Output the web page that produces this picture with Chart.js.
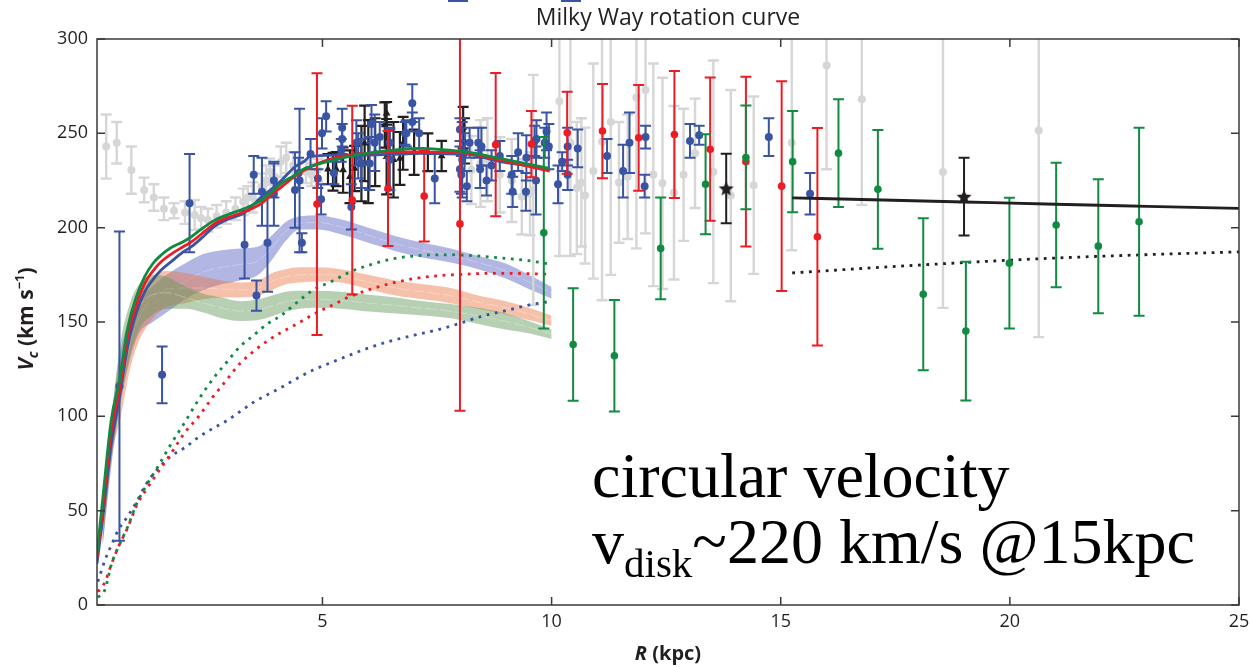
<!DOCTYPE html>
<html>
<head>
<meta charset="utf-8">
<title>Milky Way rotation curve</title>
<script src="https://cdn.jsdelivr.net/npm/chart.js@4.4.1/dist/chart.umd.min.js"></script>
<style>
  html, body { margin: 0; padding: 0; background: #ffffff; }
  #wrap { width: 1251px; height: 667px; position: relative; }
</style>
</head>
<body>
<div id="wrap"><canvas id="chart" width="1251" height="667"></canvas></div>
<script>
// ---- Tick values -------------------------------------------------------
const xTickValues = [5, 10, 15, 20, 25];
const yTickValues = [0, 50, 100, 150, 200, 250, 300];

// ---- Measurements: [R (kpc), Vc (km/s), error (km/s)] -----------------
const grayPoints = [
  [0.28,243,17],[0.51,245,11],[0.83,230.5,12.5],[1.11,220,6.5],[1.32,216,7],[1.54,210,6],
  [1.76,209,4],[2.0,208,6],[2.21,206.7,8],[2.35,205,6],[2.5,204,6],[2.69,206,6],[2.9,208,6],
  [3.1,210,6],[3.27,213.7,7],[3.37,216,6],[3.48,216,8],[3.67,221.7,7],[3.77,225,8],[3.85,229.6,7],
  [3.96,227,6],[4.09,235,8],[4.21,237,8],[4.36,233,7],[4.64,229.6,6],[4.76,228,6],[4.9,230.5,6],
  [8.25,230.5,18],[8.45,234,23],[8.6,236,22],[8.87,228,20],[9.13,225,22],[9.35,216.4,20],
  [9.53,218,22],[9.6,220,61],[10.17,267,82],[10.41,245,60],[10.55,221,35],[10.65,224,34],
  [10.73,217,36],[10.91,230,57],[11.1,245.5,84],[11.29,256,81],[11.47,224,32],[11.66,227,33],
  [11.85,269,80],[12.05,273,76],[12.22,228,59],[12.42,223.5,56],[12.67,218.5,46],[12.88,228,35],
  [13.13,239.4,29],[13.53,229.6,59],[13.91,217,56],[14.41,222.5,47],[15.24,245,57],[16.0,286,55],
  [16.77,268,56],[18.54,229.5,72],[20.63,251.5,109.5]
];
const bluePoints = [
  [0.57,116,82],[1.5,122,15],[2.1,213,26],[3.3,191,18],[3.5,228,10],[3.56,164,8],[3.68,219,18],
  [3.8,192,26],[3.94,218,17],[3.94,225,9],[4.4,220,20],[4.48,229,8],[4.5,225,38],[4.55,192,5],
  [4.74,239,8],[4.9,226,5],[4.97,215,8],[4.99,250,8],[5.08,259,8],[5.25,229,6],[5.41,241,6],
  [5.43,253,10],[5.43,247,8],[5.63,211,12],[5.74,245,12],[5.78,238,12],[5.85,234,13],[6.03,234,14],
  [6.07,255,10],[6.14,245,15],[6.25,248,8],[6.47,245,8],[6.47,236,16],[6.8,250,6],[6.83,250,7],
  [6.96,266,10],[6.96,256,5],[7.11,250,8],[7.45,226,13],[8.0,252,6],[8.0,231,12],[8.03,228,10],
  [8.05,236,20],[8.1,240,10],[8.15,222,8],[8.21,245,8],[8.4,245,8],[8.44,231,10],[8.47,243,10],
  [8.58,225,8],[8.69,233,8],[8.87,238,8],[9.13,228,10],[9.15,219,8],[9.27,240,10],[9.44,219,10],
  [9.45,237,12],[9.63,246,8],[9.66,225,18],[9.67,247,10],[9.85,245,8],[9.89,251,10],[9.94,243,12],
  [10.14,223,10],[10.23,235,5],[10.35,243,10],[10.35,228,8],[10.57,242,10],[11.21,238,9],
  [11.56,230,14],[11.7,245,16],[12.05,248,6],[12.03,222,6],[13.02,246,9],[13.22,249,5],
  [14.74,248,10],[15.64,218,11]
];
const blackPoints = [
  [5.12,231,8],[5.23,229.6,10],[5.3,231,9],[5.45,230.5,12],[5.6,227,14],[5.7,231.4,12],
  [5.85,234,20],[5.92,244.7,20],[6.0,235,22],[6.15,240,18],[6.36,254.4,12],[6.4,237.6,20],
  [6.4,260.6,6],[6.55,236,20],[6.69,236.7,14],[6.76,244.7,14],[7.0,240,12],[7.3,240,10],
  [7.6,238,8],[8.07,253,11],[8.1,246,12]
];
const redPoints = [
  [4.88,212.5,69.4],[5.65,214.6,50],[6.43,220.8,30.5],[7.22,216.7,24],[8.0,202,99],[8.78,244,38],
  [9.56,244.3,17.6],[10.34,250.3,21.7],[11.11,251.2,25],[11.9,247.6,28],[12.68,249.4,33.7],
  [13.46,241.6,38],[14.24,235,45],[15.02,222,55.6],[15.8,195.2,57.6]
];
const greenPoints = [
  [9.83,197.3,50.8],[10.47,138.1,29.8],[11.37,132.1,29.6],[12.38,189,27],[13.36,223,26.5],
  [14.24,237.2,27.5],[15.26,235,26.8],[16.26,239.5,28.5],[17.12,220.3,31.5],[18.11,164.7,40.3],
  [19.04,145.2,36.8],[19.99,181.2,34.6],[21.01,201.4,33],[21.93,190.2,35.5],[22.82,203.1,49.8]
];
const starPoints = [[13.81,220.8,18.4],[19.0,216.4,20.6]];

// ---- Model curves (R grid + Vc per model) ------------------------------
const curveR = [0.08,0.2,0.39,0.57,0.755,0.94,1.12,1.3,1.48,1.7,1.96,2.14,2.43,2.65,2.94,3.3,3.67,3.89,4.1,4.4,4.61,4.72,5.23,5.96,6.69,7.13,7.56,8.14,8.87,9.6,9.96];
const curveGreen = [27,55,98,119,147.5,163.4,174,181,185.5,189.5,192.5,195.2,200.5,204,207,210.2,214.6,219,223.5,227.9,231.4,232.3,235.8,239.4,241.5,242,241.5,240.2,236.7,233.2,231.4];
const curveRed = [25,50,92,114,143,159,170.5,177,181.9,186,189.9,192.5,198,202.3,205.5,208.4,212.9,217.5,221.5,227.3,230.5,232,236.7,239.4,240.2,240.2,240,239.5,235.8,232,230];
const curveBlue = [22,45,85,110,138,155,166,172.5,177.5,182,187.2,189.9,196,200.8,204.5,207.9,216.4,220.5,225,232.3,235.3,237.6,238.5,238.5,239,239.4,239.2,239,235,232.5,230.9];

// dotted components
const dotR = [0.1,0.25,0.4,0.55,0.75,0.95,1.15,1.4,1.7,2.0,2.3,2.6,2.9,3.2,3.5,3.8,4.1,4.4,4.8,5.2,5.6,6.0,6.5,7.0,7.5,8.0,8.5,9.0,9.5,10.0];
const dotGreen = [4,8,22,31,41.5,54,63,73,85.5,97,109,119.5,128.4,137,143,149,153.5,159.5,167,171.5,176.5,180,183.3,185,185.6,185.5,184.8,183.7,182.5,180.5];
const dotRed = [7,12,22,31,41,53,61,70,80.5,91.5,100,110,119,128,134.5,140,144.5,148.4,154,158.8,163.5,167,170.5,173,174.5,175.2,175.7,175.8,175.6,175.3];
const dotBlue = [12.4,23.5,32,40,47,55,64,72,79,83.5,89,93.5,97.5,102.5,107.5,111.5,115.3,119.5,124.6,128.6,132.5,136.2,140,143,145.8,149.3,153.2,156,159,161];

// outer-disk fit
const outerR = [15.25,17,19,21,23,25];
const outerFit = [215.8,214.8,213.6,212.4,211.3,210.2];
const outerDot = [176,178.7,181.5,183.9,185.7,187.2];

// uncertainty bands
const bandR = [0.2,0.4,0.6,0.8,1.0,1.3,1.6,2.0,2.4,2.8,3.2,3.6,3.9,4.2,4.5,4.9,5.4,6.0,6.6,7.2,7.8,8.4,9.0,9.5,10.0];
const blueBandHi = [45,100,135,152,162,169,175,181,186,188,189,190,196,203,206,206.5,204.5,200,195.5,192,189,185,181,175,168.5];
const blueBandLo = [30,75,108,130,144,150,155,162,167,170,172,175,183,193,199,199,196.5,192,187.5,184,181.5,178,173,167.5,162.5];
const orangeBandHi = [45,100,128,150,165,174,177,176,174,172,171,172,176,178,179,179,178,175,172,170,168,164,161,157.5,153.5];
const orangeBandLo = [32,78,100,125,140,152,158,160,162,163,163,164,167,170,171,171.5,171,167.5,164,162,160,157,154,151,148];
const greenBandHi = [45,100,140,160,170,175,174,169,165,163,161,162,164,166,166.5,166.5,166,164.5,163,161,159.5,157.5,154.5,150.5,146];
const greenBandLo = [32,78,108,132,146,154,157,157,155,152,150.5,151,153,155.5,157,157.5,157,155.5,154.5,153.5,152,149,146,144,141];

// ---- Colours -------------------------------------------------------------
const C = {
  gray: '#d6d6d6', blue: '#3a54a4', red: '#ec1c24', green: '#118a42', black: '#231f20',
  blueBand: 'rgba(100,110,200,0.5)', orangeBand: 'rgba(236,118,66,0.45)', greenBand: 'rgba(96,150,86,0.45)'
};

// ---- Helpers -------------------------------------------------------------
const toXY = (xs, ys) => xs.map((x, i) => ({ x, y: ys[i] }));
const ptsXY = list => list.map(p => ({ x: p[0], y: p[1] }));
const ptsErr = list => list.map(p => p[2]);

function starImage(size, color) {
  const c = document.createElement('canvas');
  c.width = c.height = size;
  const g = c.getContext('2d');
  g.fillStyle = color;
  g.beginPath();
  const R = size / 2, r = R * 0.45, cx = R, cy = R * 1.08;
  for (let i = 0; i < 10; i++) {
    const a = -Math.PI / 2 + i * Math.PI / 5;
    const rad = i % 2 ? r : R;
    g.lineTo(cx + rad * Math.cos(a), cy + rad * Math.sin(a));
  }
  g.closePath();
  g.fill();
  return c;
}

// ---- Datasets (listed bottom layer first) -------------------------------
const layers = [];
function band(lo, hi, color) {
  layers.push({ data: toXY(bandR, lo), borderWidth: 0, pointRadius: 0, fill: false, cubicInterpolationMode: 'monotone' });
  layers.push({ data: toXY(bandR, hi), borderWidth: 0, pointRadius: 0, fill: '-1', backgroundColor: color, cubicInterpolationMode: 'monotone' });
  const mid = lo.map((v, i) => (v + hi[i]) / 2);
  layers.push({ data: toXY(bandR, mid), borderColor: 'rgba(255,255,255,0.4)', borderWidth: 0.7, borderDash: [12, 3], pointRadius: 0, fill: false, cubicInterpolationMode: 'monotone' });
}
band(blueBandLo, blueBandHi, C.blueBand);
band(orangeBandLo, orangeBandHi, C.orangeBand);
band(greenBandLo, greenBandHi, C.greenBand);

function points(list, color, radius, style, capHalf, errWidth) {
  layers.push({
    data: ptsXY(list), errors: ptsErr(list), showLine: false,
    pointStyle: style || 'circle', pointRadius: radius, pointBackgroundColor: color,
    pointBorderColor: color, pointBorderWidth: 0, borderColor: color,
    capHalf: capHalf, errorWidth: errWidth
  });
}
points(grayPoints, C.gray, 4, 'circle', 5.5, 2.4);

function dotted(xs, ys, color) {
  layers.push({ data: toXY(xs, ys), borderColor: color, borderWidth: 2.8, borderDash: [2.8, 5.6], borderCapStyle: 'butt', pointRadius: 0, fill: false, cubicInterpolationMode: 'monotone' });
}
dotted(dotR, dotBlue, C.blue);
dotted(dotR, dotRed, C.red);
dotted(dotR, dotGreen, C.green);
dotted(outerR, outerDot, C.black);

points(blackPoints, C.black, 4.5, 'triangle', 5.5, 2.2);
points(bluePoints, C.blue, 4, 'circle', 5.5, 2);
points(redPoints, C.red, 3.8, 'circle', 5.5, 2);
points(greenPoints, C.green, 3.8, 'circle', 5.5, 2);
points(starPoints, C.black, 7, starImage(16, C.black), 5.5, 2);

function solid(xs, ys, color, w) {
  layers.push({ data: toXY(xs, ys), borderColor: color, borderWidth: w, pointRadius: 0, fill: false, cubicInterpolationMode: 'monotone' });
}
solid(curveR, curveBlue, C.blue, 2.8);
solid(curveR, curveRed, C.red, 2.8);
solid(curveR, curveGreen, C.green, 2.8);
solid(outerR, outerFit, C.black, 2.8);

// Chart.js draws higher `order` first, so the first layer gets the highest order.
layers.forEach((ds, i) => { ds.order = layers.length - i; });

// ---- Plugins ---------------------------------------------------------------
const errorBars = {
  id: 'errorBars',
  beforeDatasetDraw(chart, args) {
    const ds = chart.data.datasets[args.index];
    if (!ds.errors) return;
    const { ctx, chartArea: a, scales: { x, y } } = chart;
    ctx.save();
    ctx.beginPath();
    ctx.rect(a.left, a.top, a.right - a.left, a.bottom - a.top);
    ctx.clip();
    ctx.strokeStyle = ds.borderColor;
    ctx.lineWidth = ds.errorWidth;
    ctx.lineCap = 'butt';
    ds.data.forEach((p, i) => {
      const e = ds.errors[i];
      const px = x.getPixelForValue(p.x);
      const yTop = y.getPixelForValue(p.y + e);
      const yBot = y.getPixelForValue(p.y - e);
      const c = ds.capHalf;
      ctx.beginPath();
      ctx.moveTo(px, yTop); ctx.lineTo(px, yBot);
      ctx.moveTo(px - c, yTop); ctx.lineTo(px + c, yTop);
      ctx.moveTo(px - c, yBot); ctx.lineTo(px + c, yBot);
      ctx.stroke();
    });
    ctx.restore();
  }
};

const frame = {
  id: 'frame',
  afterDatasetsDraw(chart) {
    const { ctx, chartArea: a, scales: { x, y } } = chart;
    const tick = 8;
    ctx.save();
    ctx.strokeStyle = '#3a3a3a';
    ctx.lineWidth = 1.5;
    ctx.strokeRect(a.left, a.top, a.right - a.left, a.bottom - a.top);
    ctx.beginPath();
    xTickValues.forEach(v => {
      const px = x.getPixelForValue(v);
      ctx.moveTo(px, a.bottom); ctx.lineTo(px, a.bottom - tick);
      ctx.moveTo(px, a.top); ctx.lineTo(px, a.top + tick);
    });
    yTickValues.forEach(v => {
      const py = y.getPixelForValue(v);
      ctx.moveTo(a.left, py); ctx.lineTo(a.left + tick, py);
      ctx.moveTo(a.right, py); ctx.lineTo(a.right - tick, py);
    });
    ctx.stroke();
    ctx.restore();
  }
};

function richText(ctx, parts, cx, baseY, align) {
  let w = 0;
  parts.forEach(p => { ctx.font = p.font; p.w = ctx.measureText(p.t).width; w += p.w; });
  let x = align === 'left' ? cx : cx - w / 2;
  parts.forEach(p => { ctx.font = p.font; ctx.fillText(p.t, x, baseY + (p.dy || 0)); x += p.w; });
}

const labels = {
  id: 'labels',
  afterDraw(chart) {
    const { ctx, chartArea: a } = chart;
    ctx.save();
    ctx.fillStyle = C.black;
    ctx.textAlign = 'left';
    ctx.textBaseline = 'alphabetic';

    // cropped legend swatches along the top edge
    ctx.fillStyle = C.blue;
    ctx.fillRect(448, 0, 20, 2);
    ctx.fillRect(561, 0, 20, 2);
    ctx.fillStyle = C.black;

    // title
    richText(ctx, [{ t: 'Milky Way rotation curve', font: '23px "Open Sans"' }], (a.left + a.right) / 2, 25);

    // x-axis title
    richText(ctx, [
      { t: 'R', font: 'italic bold 20px "Open Sans"' },
      { t: ' (kpc)', font: 'bold 20px "Open Sans"' }
    ], (a.left + a.right) / 2, 660);

    // y-axis title
    ctx.save();
    ctx.translate(33, 319);
    ctx.rotate(-Math.PI / 2);
    richText(ctx, [
      { t: 'V', font: 'italic bold 21px "Open Sans"' },
      { t: 'c', font: 'italic bold 14px "Open Sans"', dy: 5 },
      { t: ' (km s', font: 'bold 21px "Open Sans"' },
      { t: '\u22121', font: 'bold 13px "Open Sans"', dy: -9 },
      { t: ')', font: 'bold 21px "Open Sans"' }
    ], 0, 0);
    ctx.restore();

    // annotation
    ctx.fillStyle = '#000000';
    richText(ctx, [{ t: 'circular velocity', font: '64px "Liberation Serif"' }], 592, 497, 'left');
    richText(ctx, [
      { t: 'v', font: '64px "Liberation Serif"' },
      { t: 'disk', font: '41px "Liberation Serif"', dy: 14 },
      { t: '~220 km/s @15kpc', font: '64px "Liberation Serif"' }
    ], 592, 563, 'left');
    ctx.restore();
  }
};

// ---- Chart -------------------------------------------------------------------
new Chart(document.getElementById('chart'), {
  type: 'line',
  data: { datasets: layers },
  options: {
    responsive: false,
    animation: false,
    events: [],
    layout: { padding: { top: 39, right: 12, left: 0, bottom: 0 } },
    plugins: { legend: { display: false }, tooltip: { enabled: false }, title: { display: false } },
    scales: {
      x: {
        type: 'linear', min: 0.08, max: 25,
        afterBuildTicks: s => { s.ticks = xTickValues.map(v => ({ value: v })); },
        afterFit: s => { s.height = 62; s.paddingLeft = 0; s.paddingRight = 0; },
        grid: { display: false, drawTicks: false },
        border: { display: false },
        ticks: { font: { family: 'Open Sans', size: 18 }, color: '#231f20', padding: 6, maxRotation: 0, autoSkip: false }
      },
      y: {
        type: 'linear', min: 0, max: 300,
        afterBuildTicks: s => { s.ticks = yTickValues.map(v => ({ value: v })); },
        afterFit: s => { s.width = 97; s.paddingTop = 0; s.paddingBottom = 0; },
        grid: { display: false, drawTicks: false },
        border: { display: false },
        ticks: { font: { family: 'Open Sans', size: 18 }, color: '#231f20', padding: 9 }
      }
    }
  },
  plugins: [errorBars, frame, labels]
});
</script>
</body>
</html>
